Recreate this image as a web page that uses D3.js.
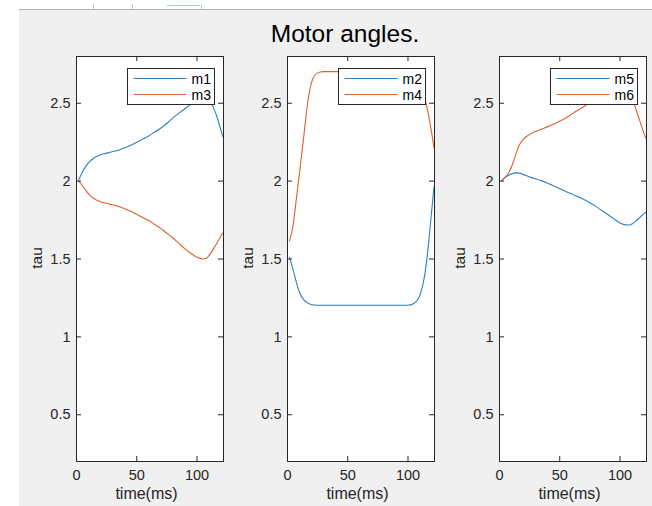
<!DOCTYPE html>
<html>
<head>
<meta charset="utf-8">
<script src="https://d3js.org/d3.v7.min.js"></script>
<style>
  html, body { margin: 0; padding: 0; background: #fff; }
  svg { display: block; font-family: "Liberation Sans", Arial, sans-serif; }
</style>
</head>
<body>
<svg id="chart" width="652" height="506"></svg>
<script>
// ---- data ----
const time = [2, 5, 8, 11, 14, 17, 20, 25, 30, 35, 40, 45, 50, 55, 60, 65, 70, 75, 80, 85, 90, 95, 100, 105, 108, 111, 114, 117, 120, 122];

const m1 = [2.0, 2.05, 2.09, 2.12, 2.14, 2.155, 2.165, 2.175, 2.185, 2.195, 2.21, 2.225, 2.245, 2.265, 2.285, 2.31, 2.335, 2.365, 2.40, 2.43, 2.46, 2.49, 2.535, 2.56, 2.55, 2.52, 2.47, 2.41, 2.33, 2.28];
const m3 = [2.0, 1.97, 1.94, 1.91, 1.89, 1.875, 1.865, 1.855, 1.845, 1.835, 1.82, 1.805, 1.785, 1.765, 1.745, 1.72, 1.695, 1.665, 1.635, 1.60, 1.565, 1.535, 1.51, 1.497, 1.50, 1.525, 1.56, 1.60, 1.64, 1.665];

const m2 = [1.51, 1.43, 1.34, 1.27, 1.235, 1.215, 1.205, 1.2, 1.2, 1.2, 1.2, 1.2, 1.2, 1.2, 1.2, 1.2, 1.2, 1.2, 1.2, 1.2, 1.2, 1.2, 1.2, 1.21, 1.23, 1.28, 1.38, 1.56, 1.80, 1.96];
const m4 = [1.61, 1.71, 1.90, 2.09, 2.29, 2.49, 2.62, 2.69, 2.70, 2.70, 2.70, 2.70, 2.70, 2.70, 2.70, 2.70, 2.70, 2.70, 2.70, 2.70, 2.70, 2.70, 2.70, 2.69, 2.66, 2.61, 2.54, 2.44, 2.31, 2.21];

const m5 = [2.0, 2.02, 2.035, 2.045, 2.05, 2.048, 2.04, 2.025, 2.012, 2.0, 1.985, 1.967, 1.95, 1.932, 1.915, 1.898, 1.88, 1.86, 1.836, 1.81, 1.784, 1.756, 1.73, 1.716, 1.715, 1.725, 1.743, 1.765, 1.785, 1.80];
const m6 = [2.0, 2.02, 2.05, 2.10, 2.17, 2.23, 2.265, 2.295, 2.315, 2.33, 2.345, 2.362, 2.38, 2.40, 2.425, 2.45, 2.473, 2.50, 2.525, 2.55, 2.57, 2.59, 2.60, 2.60, 2.58, 2.52, 2.45, 2.38, 2.31, 2.27];

const xTicks = [0, 50, 100];
const yTicks = [0.5, 1, 1.5, 2, 2.5];
const xDomain = [0, 122];
const yDomain = [0.2, 2.8];

const panels = [
  { left: 76,  names: ['m1', 'm3'], series: [m1, m3] },
  { left: 287, names: ['m2', 'm4'], series: [m2, m4] },
  { left: 499, names: ['m5', 'm6'], series: [m5, m6] }
];

const colors = ['#2a80c0', '#d9622e'];
const axisColor = '#262626';

// ---- layout ----
const plotTop = 56, plotBottom = 461, panelW = 147;

const svg = d3.select('#chart');

// window chrome + figure background
svg.append('rect').attr('x', 0).attr('y', 0).attr('width', 652).attr('height', 506).attr('fill', '#fff');
svg.append('rect').attr('x', 19).attr('y', 10).attr('width', 633).attr('height', 496).attr('fill', '#f0f0f0');
svg.append('line').attr('x1', 19).attr('x2', 652).attr('y1', 9.5).attr('y2', 9.5)
  .attr('stroke', '#b4b4b4').attr('stroke-width', 1);
[93, 132, 201].forEach(x => {
  svg.append('line').attr('x1', x + 0.5).attr('x2', x + 0.5).attr('y1', 4).attr('y2', 9)
    .attr('stroke', '#c8c8c8');
});
svg.append('line').attr('x1', 167).attr('x2', 200).attr('y1', 5.5).attr('y2', 5.5)
  .attr('stroke', '#a9c8e6').attr('stroke-width', 1);

// title
svg.append('text')
  .attr('x', 345).attr('y', 42)
  .attr('text-anchor', 'middle')
  .attr('font-size', 24.5)
  .attr('fill', '#000')
  .text('Motor angles.');

panels.forEach(p => {
  const x = d3.scaleLinear().domain(xDomain).range([p.left, p.left + panelW]);
  const y = d3.scaleLinear().domain(yDomain).range([plotBottom, plotTop]);
  const g = svg.append('g');

  // plot area
  g.append('rect')
    .attr('x', p.left).attr('y', plotTop)
    .attr('width', panelW).attr('height', plotBottom - plotTop)
    .attr('fill', '#fff');

  const clipId = 'clip' + p.left;
  svg.append('clipPath').attr('id', clipId)
    .append('rect').attr('x', p.left).attr('y', plotTop).attr('width', panelW).attr('height', plotBottom - plotTop);

  // lines
  const line = d3.line()
    .x((d, i) => x(time[i]))
    .y(d => y(d))
    .curve(d3.curveMonotoneX);

  g.append('g').attr('clip-path', `url(#${clipId})`)
    .selectAll('path')
    .data(p.series)
    .join('path')
    .attr('d', d => line(d))
    .attr('fill', 'none')
    .attr('stroke', (d, i) => colors[i])
    .attr('stroke-width', 1.1);

  // axes (ticks inward, box on)
  const tickLen = 5;
  const bottomAxis = d3.axisBottom(x).tickValues(xTicks).tickSize(-tickLen).tickPadding(9).tickFormat(d3.format('d'));
  const leftAxis = d3.axisLeft(y).tickValues(yTicks).tickSize(-tickLen).tickPadding(5.5).tickFormat(d => String(d));
  const topAxis = d3.axisTop(x).tickValues(xTicks).tickSize(-tickLen).tickFormat('');
  const rightAxis = d3.axisRight(y).tickValues(yTicks).tickSize(-tickLen).tickFormat('');

  const styleAxis = sel => {
    sel.selectAll('path.domain').attr('stroke', axisColor).attr('stroke-width', 1);
    sel.selectAll('.tick line').attr('stroke', axisColor).attr('stroke-width', 1);
    sel.selectAll('.tick text').attr('fill', axisColor).attr('font-size', 14.5)
      .attr('font-family', '"Liberation Sans", Arial, sans-serif');
  };

  g.append('g').attr('transform', `translate(0,${plotBottom})`).call(bottomAxis).call(styleAxis);
  g.append('g').attr('transform', `translate(${p.left},0)`).call(leftAxis).call(styleAxis);
  g.append('g').attr('transform', `translate(0,${plotTop})`).call(topAxis).call(styleAxis);
  g.append('g').attr('transform', `translate(${p.left + panelW},0)`).call(rightAxis).call(styleAxis);

  // axis labels
  g.append('text')
    .attr('x', p.left + panelW / 2 - 3).attr('y', 499)
    .attr('text-anchor', 'middle')
    .attr('font-size', 16)
    .attr('fill', axisColor)
    .text('time(ms)');

  g.append('text')
    .attr('transform', `translate(${p.left - 34.5},258) rotate(-90)`)
    .attr('text-anchor', 'middle')
    .attr('font-size', 15.5)
    .attr('fill', axisColor)
    .text('tau');

  // legend
  const lw = 87, lh = 36;
  const lx = p.left + panelW - 8.5 - lw, ly = plotTop + 12.5;
  const lg = g.append('g').attr('transform', `translate(${lx},${ly})`);
  lg.append('rect').attr('width', lw).attr('height', lh)
    .attr('fill', '#fff').attr('stroke', axisColor).attr('stroke-width', 1);
  p.names.forEach((name, i) => {
    const ry = 10 + i * 16;
    lg.append('line').attr('x1', 6).attr('x2', 59).attr('y1', ry).attr('y2', ry)
      .attr('stroke', colors[i]).attr('stroke-width', 1.1);
    lg.append('text').attr('x', 64).attr('y', ry + 5)
      .attr('font-size', 14).attr('fill', '#000')
      .text(name);
  });
});
</script>
</body>
</html>
